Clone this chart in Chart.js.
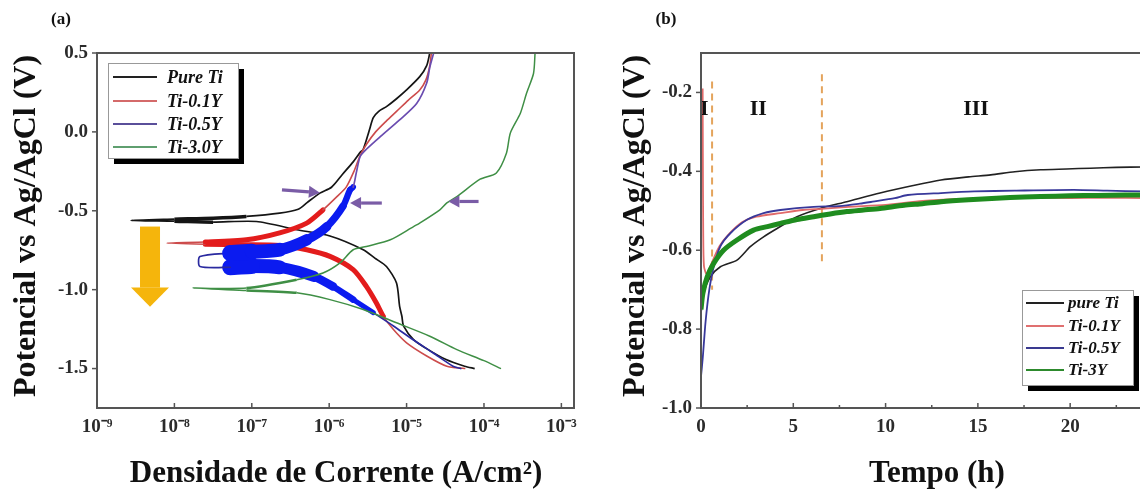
<!DOCTYPE html>
<html>
<head>
<meta charset="utf-8">
<script src="https://cdn.jsdelivr.net/npm/chart.js@4.4.0/dist/chart.umd.min.js"></script>
<style>
  body { margin: 0; background: #fff; width: 1140px; height: 496px; overflow: hidden; position: relative; }
  .panel { position: absolute; top: 0; width: 580px; height: 496px; }
  #panelA { left: 0; }
  #panelB { left: 580px; }
</style>
</head>
<body>
<div class="panel" id="panelA"><canvas id="polar" width="580" height="496"></canvas></div>
<div class="panel" id="panelB"><canvas id="ocp" width="580" height="496"></canvas></div>
<script>
// nomes das series
const seriesA = ['Pure Ti', 'Ti-0.1Y', 'Ti-0.5Y', 'Ti-3.0Y'];
const seriesB = ['pure Ti', 'Ti-0.1Y', 'Ti-0.5Y', 'Ti-3Y'];

// ticks
const decades = [-9, -8, -7, -6, -5, -4, -3];
const potTicksA = [-1.5, -1.0, -0.5, 0.0, 0.5];
const timeTicks = [0, 5, 10, 15, 20];
const minorTimeTicks = [2.5, 7.5, 12.5, 17.5, 22.5];
const potTicksB = [-1.0, -0.8, -0.6, -0.4, -0.2];

// (a) polarizacao: log10 da densidade de corrente e potencial (V)
const polPureLogI = [-4.12, -4.25, -4.49, -4.72, -4.91, -5.04, -5.06, -5.09, -5.13, -5.26, -5.41, -5.56, -5.99, -6.42, -6.94, -7.5, -8.0, -8.56, -8.0, -7.5, -7.07, -6.64, -6.4, -6.29, -6.12, -5.97, -5.83, -5.69, -5.60, -5.56, -5.50, -5.47, -5.43, -5.36, -5.26, -5.13, -5.0, -4.83, -4.74, -4.70];
const polPurePot = [-1.50, -1.485, -1.443, -1.38, -1.316, -1.23, -1.17, -1.106, -0.958, -0.853, -0.80, -0.747, -0.66, -0.62, -0.568, -0.572, -0.566, -0.561, -0.553, -0.547, -0.536, -0.515, -0.49, -0.45, -0.388, -0.351, -0.27, -0.19, -0.13, -0.11, -0.02, 0.03, 0.09, 0.13, 0.16, 0.21, 0.266, 0.35, 0.42, 0.5];

const pol01LogI = [-4.25, -4.48, -4.74, -5.0, -5.17, -5.30, -5.39, -5.52, -5.69, -5.99, -6.29, -6.64, -7.1, -7.6, -8.1, -7.6, -7.07, -6.64, -6.29, -6.08, -5.90, -5.78, -5.68, -5.60, -5.52, -5.40, -5.26, -5.13, -4.98, -4.83, -4.75, -4.70, -4.68];
const pol01Pot = [-1.5, -1.485, -1.42, -1.337, -1.253, -1.169, -1.084, -0.979, -0.873, -0.789, -0.747, -0.72, -0.715, -0.712, -0.705, -0.698, -0.684, -0.64, -0.578, -0.494, -0.41, -0.35, -0.25, -0.15, -0.08, 0.0, 0.07, 0.13, 0.2, 0.266, 0.33, 0.42, 0.5];

const pol05LogI = [-4.30, -4.40, -4.66, -4.92, -5.17, -5.43, -5.69, -5.95, -6.2, -6.64, -7.0, -7.28, -7.67, -7.67, -7.28, -7.0, -6.64, -6.29, -6.03, -5.82, -5.73, -5.69, -5.65, -5.60, -5.52, -5.34, -5.09, -4.87, -4.74, -4.70, -4.65];
const pol05Pot = [-1.5, -1.485, -1.40, -1.316, -1.23, -1.146, -1.063, -0.98, -0.916, -0.858, -0.85, -0.858, -0.853, -0.79, -0.768, -0.76, -0.747, -0.684, -0.60, -0.47, -0.367, -0.35, -0.26, -0.156, -0.11, -0.03, 0.076, 0.18, 0.31, 0.41, 0.5];

const pol3LogI = [-3.78, -4.00, -4.35, -4.70, -5.13, -5.56, -5.99, -6.42, -7.07, -7.76, -7.07, -6.42, -6.08, -5.86, -5.69, -5.52, -5.21, -4.91, -4.83, -4.57, -4.48, -4.35, -4.05, -3.84, -3.71, -3.66, -3.53, -3.45, -3.36, -3.34];
const pol3Pot = [-1.5, -1.45, -1.38, -1.295, -1.21, -1.126, -1.063, -1.02, -1.005, -0.99, -0.99, -0.937, -0.894, -0.83, -0.747, -0.726, -0.684, -0.60, -0.578, -0.494, -0.45, -0.41, -0.30, -0.26, -0.135, -0.008, 0.118, 0.245, 0.37, 0.5];

// (b) potencial de circuito aberto: tempo (h) e potencial (V)
const ocpPureTime = [0, 0.14, 0.5, 1.05, 1.95, 2.67, 3.39, 4.3, 5.2, 6.46, 7.9, 9.7, 11.5, 13, 14.5, 15.7, 17, 18.4, 19.8, 21.1, 22.5, 24];
const ocpPurePot = [-0.76, -0.71, -0.668, -0.642, -0.625, -0.591, -0.566, -0.54, -0.515, -0.494, -0.477, -0.455, -0.436, -0.422, -0.414, -0.409, -0.401, -0.396, -0.394, -0.392, -0.39, -0.389];

const ocp01Time = [0.09, 0.1, 0.12, 0.16, 0.3, 0.6, 1.0, 1.5, 2.2, 3.0, 4.3, 5.5, 6.5, 8, 10, 12, 14, 16, 18, 20, 22, 24];
const ocp01Pot = [-0.19, -0.35, -0.55, -0.64, -0.66, -0.63, -0.59, -0.56, -0.53, -0.515, -0.506, -0.498, -0.495, -0.49, -0.485, -0.475, -0.47, -0.468, -0.467, -0.468, -0.467, -0.468];

const ocp05Time = [0, 0.1, 0.25, 0.45, 0.7, 1.05, 1.59, 2.49, 3.39, 4.3, 6.1, 7.5, 8.6, 9.3, 10.5, 11.2, 13, 14.8, 17, 20.2, 22, 24];
const ocp05Pot = [-0.92, -0.87, -0.78, -0.70, -0.64, -0.59, -0.557, -0.523, -0.506, -0.498, -0.49, -0.488, -0.482, -0.477, -0.468, -0.46, -0.455, -0.451, -0.449, -0.447, -0.449, -0.451];

const ocp3Time = [0, 0.1, 0.33, 0.68, 1.22, 1.95, 2.85, 3.6, 4.3, 5.2, 6.1, 7.0, 7.9, 8.8, 9.7, 11, 12, 13, 14.5, 16, 17.5, 18.4, 20, 21.5, 23, 24];
const ocp3Pot = [-0.75, -0.71, -0.668, -0.634, -0.60, -0.574, -0.549, -0.54, -0.532, -0.522, -0.515, -0.508, -0.502, -0.498, -0.494, -0.486, -0.482, -0.477, -0.472, -0.468, -0.465, -0.464, -0.462, -0.461, -0.46, -0.46];

// anotacoes
const arrowsA = [
  { from: [-6.61, -0.367], to: [-6.12, -0.385] },
  { from: [-5.32, -0.451], to: [-5.73, -0.451] },
  { from: [-4.07, -0.441], to: [-4.46, -0.441] }
];
const bigArrowA = { logI: -8.315, top: -0.60, neck: -0.987, tip: -1.108 };
const stageLines = [0.6, 6.55];
const stageLabels = [['I', 0.18], ['II', 3.1], ['III', 14.9]];

const serif = "'Liberation Serif', 'Times New Roman', serif";
const axisColor = '#555';
const labelColor = '#2b2b2b';

const sup = { '-': '\u207B', '0': '\u2070', '1': '\u00B9', '2': '\u00B2', '3': '\u00B3', '4': '\u2074', '5': '\u2075', '6': '\u2076', '7': '\u2077', '8': '\u2078', '9': '\u2079' };
function powerLabel(v) {
  const e = String(Math.round(Math.log10(v)));
  return '10' + e.split('').map(c => sup[c]).join('');
}

function logPts(ls, ps) { return ls.map((l, i) => ({ x: Math.pow(10, l), y: ps[i] })) }
function linPts(ts, ps) { return ts.map((t, i) => ({ x: t, y: ps[i] })) }

// segmento dentro de uma faixa (log I, E)
function inBand(ctx, lo, hi, eLo, eHi) {
  const a = ctx.p0.parsed, b = ctx.p1.parsed;
  const la = Math.log10(a.x), lb = Math.log10(b.x);
  return la >= lo && lb >= lo && la <= hi && lb <= hi && a.y >= eLo && b.y >= eLo && a.y <= eHi && b.y <= eHi;
}

function line(ctx, x0, y0, x1, y1) {
  ctx.beginPath(); ctx.moveTo(x0, y0); ctx.lineTo(x1, y1); ctx.stroke();
}

function arrow(ctx, x0, y0, x1, y1, color) {
  const ang = Math.atan2(y1 - y0, x1 - x0);
  const hl = 11, hw = 6;
  const bx = x1 - hl * Math.cos(ang), by = y1 - hl * Math.sin(ang);
  ctx.strokeStyle = color; ctx.fillStyle = color; ctx.lineWidth = 3.2;
  line(ctx, x0, y0, bx, by);
  ctx.beginPath();
  ctx.moveTo(x1, y1);
  ctx.lineTo(bx + hw * Math.sin(ang), by - hw * Math.cos(ang));
  ctx.lineTo(bx - hw * Math.sin(ang), by + hw * Math.cos(ang));
  ctx.closePath(); ctx.fill();
}

function legendBox(ctx, x, y, w, h, rows, names, colors, lineX0, lineX1, textX, font) {
  ctx.save();
  ctx.fillStyle = '#000';
  ctx.fillRect(x + 6, y + 6, w, h);
  ctx.fillStyle = '#fff';
  ctx.fillRect(x, y, w, h);
  ctx.strokeStyle = '#999'; ctx.lineWidth = 1;
  ctx.strokeRect(x + 0.5, y + 0.5, w, h);
  ctx.font = font;
  ctx.textBaseline = 'middle';
  ctx.textAlign = 'left';
  names.forEach((n, i) => {
    ctx.strokeStyle = colors[i]; ctx.lineWidth = 2;
    line(ctx, lineX0, rows[i], lineX1, rows[i]);
    ctx.fillStyle = '#111';
    ctx.fillText(n, textX, rows[i] + 1);
  });
  ctx.restore();
}

function titles(ctx, yTitle, yx, xTitle, xx, tag, tagX) {
  ctx.save();
  ctx.fillStyle = '#111';
  ctx.textAlign = 'center'; ctx.textBaseline = 'middle';
  ctx.font = 'bold 31px ' + serif;
  ctx.fillText(xTitle, xx, 474);
  ctx.font = 'bold 17px ' + serif;
  ctx.fillText(tag, tagX, 20);
  ctx.translate(yx, 226);
  ctx.rotate(-Math.PI / 2);
  ctx.font = 'bold 32px ' + serif;
  ctx.fillText(yTitle, 0, 0);
  ctx.restore();
}

const tickFont = { family: serif, size: 19, weight: 'bold' };

// 1. Painel (a) - curvas de polarizacao
const decorA = {
  id: 'decorA',
  afterDatasetsDraw(chart) {
    const { ctx, scales: { x, y } } = chart;
    ctx.save();
    // seta laranja
    const cx = x.getPixelForValue(Math.pow(10, bigArrowA.logI));
    const t = y.getPixelForValue(bigArrowA.top), n = y.getPixelForValue(bigArrowA.neck), p = y.getPixelForValue(bigArrowA.tip);
    ctx.fillStyle = '#f5b50c';
    ctx.fillRect(cx - 10, t, 20, n - t);
    ctx.beginPath();
    ctx.moveTo(cx - 19, n); ctx.lineTo(cx + 19, n); ctx.lineTo(cx, p);
    ctx.closePath(); ctx.fill();
    // setas roxas
    arrowsA.forEach(a => {
      arrow(ctx, x.getPixelForValue(Math.pow(10, a.from[0])), y.getPixelForValue(a.from[1]),
        x.getPixelForValue(Math.pow(10, a.to[0])), y.getPixelForValue(a.to[1]), '#7a5ca6');
    });
    ctx.restore();
    legendBox(ctx, 108, 63, 130, 95, [77, 101, 124, 147], seriesA,
      ['#222', '#d46a6a', '#5a4f9a', '#5f9f6f'], 113, 157, 167, 'italic bold 18px ' + serif);
  },
  afterDraw(chart) {
    const { ctx, chartArea: a, scales: { x, y } } = chart;
    ctx.save();
    ctx.strokeStyle = axisColor; ctx.lineWidth = 2;
    ctx.strokeRect(a.left, a.top, a.right - a.left, a.bottom - a.top);
    ctx.lineWidth = 1.5;
    decades.forEach(d => { const px = x.getPixelForValue(Math.pow(10, d)); line(ctx, px, a.bottom, px, a.bottom - 5); });
    potTicksA.forEach(v => { const py = y.getPixelForValue(v); line(ctx, a.left - 5, py, a.left, py); });
    ctx.restore();
    titles(ctx, 'Potencial vs Ag/AgCl (V)', 27, 'Densidade de Corrente (A/cm\u00B2)', 336, '(a)', 61);
  }
};

// largura do traco azul: afina ao se afastar do Ecorr
function blueWidth(ctx) {
  if (!inBand(ctx, -7.35, -5.4, -1.15, -0.33)) return undefined;
  const mid = (Math.log10(ctx.p0.parsed.x) + Math.log10(ctx.p1.parsed.x)) / 2;
  return Math.max(5, Math.min(16, 5 + (-5.6 - mid) / 1.5 * 11));
}

new Chart(document.getElementById('polar'), {
  type: 'scatter',
  data: {
    datasets: [
      {
        label: seriesA[3], data: logPts(pol3LogI, pol3Pot), borderColor: '#3f8f45', borderWidth: 1.5, order: 0,
        segment: { borderWidth: ctx => inBand(ctx, -7.3, -6.3, -1.03, -0.93) ? 2.6 : undefined }
      },
      {
        label: seriesA[2], data: logPts(pol05LogI, pol05Pot), borderColor: '#2a2aa0', borderWidth: 1.7, order: 1,
        borderJoinStyle: 'round', borderCapStyle: 'round',
        segment: {
          borderWidth: blueWidth,
          borderColor: ctx => inBand(ctx, -7.35, -5.4, -1.15, -0.33) ? '#0b1bf0' : (ctx.p0.parsed.y > -0.6 ? '#6a4cb0' : undefined)
        }
      },
      {
        label: seriesA[1], data: logPts(pol01LogI, pol01Pot), borderColor: '#cc4b4b', borderWidth: 1.6, order: 2,
        borderJoinStyle: 'round', borderCapStyle: 'round',
        segment: {
          borderWidth: ctx => inBand(ctx, -7.7, -5.2, -1.2, -0.45) ? 5 : undefined,
          borderColor: ctx => inBand(ctx, -7.7, -5.2, -1.2, -0.45) ? '#e31c1c' : undefined
        }
      },
      {
        label: seriesA[0], data: logPts(polPureLogI, polPurePot), borderColor: '#151515', borderWidth: 1.7, order: 3,
        segment: { borderWidth: ctx => inBand(ctx, -8.1, -7.0, -0.6, -0.5) ? 3.5 : undefined }
      }
    ]
  },
  options: {
    responsive: false,
    animation: false,
    events: [],
    showLine: true,
    elements: { point: { radius: 0 }, line: { tension: 0.25, fill: false } },
    layout: { padding: { top: 53, right: 6, left: 0, bottom: 0 } },
    plugins: { legend: { display: false }, tooltip: { enabled: false } },
    scales: {
      x: {
        type: 'logarithmic', min: 1e-9, max: 1.456e-3,
        afterBuildTicks: s => { s.ticks = decades.map(d => ({ value: Math.pow(10, d) })); },
        ticks: { callback: v => powerLabel(v), font: tickFont, color: labelColor, padding: 8, maxRotation: 0, autoSkip: false },
        grid: { display: false, drawTicks: false }, border: { display: false },
        afterFit: s => { s.height = 88; s.paddingLeft = 0; s.paddingRight = 0; }
      },
      y: {
        min: -1.75, max: 0.5,
        afterBuildTicks: s => { s.ticks = potTicksA.map(v => ({ value: v })); },
        ticks: { callback: v => v.toFixed(1), font: tickFont, color: labelColor, padding: 9, autoSkip: false },
        grid: { display: false, drawTicks: false }, border: { display: false },
        afterFit: s => { s.width = 97; s.paddingTop = 0; s.paddingBottom = 0; }
      }
    }
  },
  plugins: [decorA]
});

// 2. Painel (b) - potencial vs tempo
const decorB = {
  id: 'decorB',
  beforeDatasetsDraw(chart) {
    const { ctx, scales: { x, y } } = chart;
    ctx.save();
    ctx.strokeStyle = '#e4a45c'; ctx.lineWidth = 2; ctx.setLineDash([7, 5]);
    line(ctx, x.getPixelForValue(stageLines[0]), y.getPixelForValue(-0.172), x.getPixelForValue(stageLines[0]), y.getPixelForValue(-0.70));
    line(ctx, x.getPixelForValue(stageLines[1]), y.getPixelForValue(-0.154), x.getPixelForValue(stageLines[1]), y.getPixelForValue(-0.638));
    ctx.restore();
  },
  afterDatasetsDraw(chart) {
    const { ctx, scales: { x, y } } = chart;
    ctx.save();
    ctx.fillStyle = '#111'; ctx.font = 'bold 22px ' + serif;
    ctx.textAlign = 'center'; ctx.textBaseline = 'middle';
    stageLabels.forEach(s => ctx.fillText(s[0], x.getPixelForValue(s[1]), y.getPixelForValue(-0.244)));
    ctx.restore();
    legendBox(ctx, 442, 290, 111, 95, [303, 326, 348, 370], seriesB,
      ['#222', '#e07070', '#3a3a90', '#2d8a2d'], 446, 484, 488, 'italic bold 17px ' + serif);
  },
  afterDraw(chart) {
    const { ctx, chartArea: a, scales: { x, y } } = chart;
    ctx.save();
    ctx.strokeStyle = axisColor; ctx.lineWidth = 2;
    ctx.strokeRect(a.left, a.top, a.right - a.left, a.bottom - a.top);
    ctx.lineWidth = 1.5;
    timeTicks.forEach(v => { const px = x.getPixelForValue(v); line(ctx, px, a.bottom, px, a.bottom - 5); });
    minorTimeTicks.forEach(v => { const px = x.getPixelForValue(v); line(ctx, px, a.bottom, px, a.bottom - 3); });
    potTicksB.forEach(v => { const py = y.getPixelForValue(v); line(ctx, a.left - 5, py, a.left, py); });
    ctx.restore();
    titles(ctx, 'Potencial vs Ag/AgCl (V)', 56, 'Tempo (h)', 357, '(b)', 86);
  }
};

new Chart(document.getElementById('ocp'), {
  type: 'scatter',
  data: {
    datasets: [
      { label: seriesB[3], data: linPts(ocp3Time, ocp3Pot), borderColor: '#1f8c1f', borderWidth: 5, order: 0 },
      { label: seriesB[2], data: linPts(ocp05Time, ocp05Pot), borderColor: '#38389a', borderWidth: 1.8, order: 1 },
      { label: seriesB[1], data: linPts(ocp01Time, ocp01Pot), borderColor: '#e06a6a', borderWidth: 1.8, order: 2 },
      { label: seriesB[0], data: linPts(ocpPureTime, ocpPurePot), borderColor: '#222', borderWidth: 1.6, order: 3 }
    ]
  },
  options: {
    responsive: false,
    animation: false,
    events: [],
    showLine: true,
    elements: { point: { radius: 0 }, line: { tension: 0.25, fill: false } },
    layout: { padding: { top: 53, right: 16, left: 0, bottom: 0 } },
    plugins: { legend: { display: false }, tooltip: { enabled: false } },
    scales: {
      x: {
        type: 'linear', min: 0, max: 24,
        afterBuildTicks: s => { s.ticks = timeTicks.map(v => ({ value: v })); },
        ticks: { callback: v => String(v), font: tickFont, color: labelColor, padding: 8, maxRotation: 0, autoSkip: false },
        grid: { display: false, drawTicks: false }, border: { display: false },
        afterFit: s => { s.height = 88; s.paddingLeft = 0; s.paddingRight = 0; }
      },
      y: {
        min: -1.0, max: -0.1,
        afterBuildTicks: s => { s.ticks = potTicksB.map(v => ({ value: v })); },
        ticks: { callback: v => v.toFixed(1), font: tickFont, color: labelColor, padding: 9, autoSkip: false },
        grid: { display: false, drawTicks: false }, border: { display: false },
        afterFit: s => { s.width = 121; s.paddingTop = 0; s.paddingBottom = 0; }
      }
    }
  },
  plugins: [decorB]
});
</script>
</body>
</html>
